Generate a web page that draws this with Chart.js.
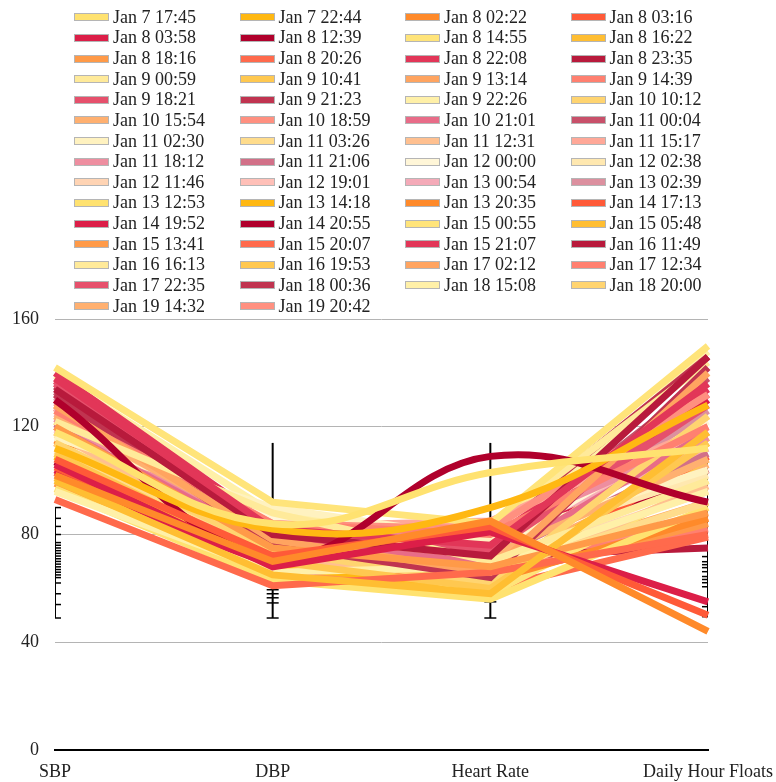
<!DOCTYPE html>
<html>
<head>
<meta charset="utf-8">
<script src="https://cdn.jsdelivr.net/npm/chart.js@4.4.1/dist/chart.umd.min.js"></script>
<style>
  body { margin: 0; background: #fff; }
  #wrap { position: relative; width: 776px; height: 782px; }
  #legend {
    position: absolute; left: 74px; top: 7px;
    display: grid; grid-template-columns: repeat(4, 165.5px); grid-auto-rows: 20.64px;
    font: 18px 'Liberation Serif', 'Times New Roman', serif; color: #222;
  }
  .item { display: flex; align-items: center; white-space: nowrap; }
  .sw { width: 33px; height: 6px; border: 1px solid #b5b5b5; margin-right: 4px; }
</style>
</head>
<body>
<div id="wrap">
  <canvas id="chart" width="776" height="782"></canvas>
  <div id="legend"></div>
</div>
<script>
// categories on the x axis
const categories = ['SBP', 'DBP', 'Heart Rate', 'Daily Hour Floats'];

// one reading per series (legend order)
const seriesLabels = [
  'Jan 7 17:45', 'Jan 7 22:44', 'Jan 8 02:22', 'Jan 8 03:16',
  'Jan 8 03:58', 'Jan 8 12:39', 'Jan 8 14:55', 'Jan 8 16:22',
  'Jan 8 18:16', 'Jan 8 20:26', 'Jan 8 22:08', 'Jan 8 23:35',
  'Jan 9 00:59', 'Jan 9 10:41', 'Jan 9 13:14', 'Jan 9 14:39',
  'Jan 9 18:21', 'Jan 9 21:23', 'Jan 9 22:26', 'Jan 10 10:12',
  'Jan 10 15:54', 'Jan 10 18:59', 'Jan 10 21:01', 'Jan 11 00:04',
  'Jan 11 02:30', 'Jan 11 03:26', 'Jan 11 12:31', 'Jan 11 15:17',
  'Jan 11 18:12', 'Jan 11 21:06', 'Jan 12 00:00', 'Jan 12 02:38',
  'Jan 12 11:46', 'Jan 12 19:01', 'Jan 13 00:54', 'Jan 13 02:39',
  'Jan 13 12:53', 'Jan 13 14:18', 'Jan 13 20:35', 'Jan 14 17:13',
  'Jan 14 19:52', 'Jan 14 20:55', 'Jan 15 00:55', 'Jan 15 05:48',
  'Jan 15 13:41', 'Jan 15 20:07', 'Jan 15 21:07', 'Jan 16 11:49',
  'Jan 16 16:13', 'Jan 16 19:53', 'Jan 17 02:12', 'Jan 17 12:34',
  'Jan 17 22:35', 'Jan 18 00:36', 'Jan 18 15:08', 'Jan 18 20:00',
  'Jan 19 14:32', 'Jan 19 20:42'
];

// values per series: SBP, DBP, Heart Rate, Daily Hour Floats
const seriesValues = [
  [118, 84, 103, 112], [112, 82, 90, 128], [102, 70, 85, 44], [108, 72, 83, 50],
  [106, 68, 81, 55], [130, 72, 109, 92], [142, 92, 84, 150], [100, 65, 58, 118],
  [120, 75, 68, 88], [93, 61, 66, 80], [138, 82, 76, 136], [134, 80, 72, 146],
  [122, 88, 70, 100], [110, 70, 60, 114], [128, 78, 66, 140], [126, 84, 80, 120],
  [136, 79, 74, 128], [132, 76, 64, 142], [96, 66, 68, 96], [114, 74, 62, 124],
  [124, 80, 72, 108], [129, 84, 82, 132], [120, 77, 70, 118], [133, 81, 75, 138],
  [116, 90, 78, 104], [111, 75, 66, 92], [118, 71, 64, 98], [125, 83, 85, 120],
  [123, 79, 80, 116], [121, 76, 71, 110], [113, 86, 74, 122], [117, 82, 76, 102],
  [112, 79, 69, 96], [119, 81, 77, 118], [127, 78, 79, 112], [131, 80, 73, 126],
  [97, 63, 56, 90], [109, 68, 61, 114], [115, 72, 63, 86], [105, 70, 62, 109],
  [104, 66, 68, 130], [107, 67, 67, 104], [124, 77, 58, 100], [101, 64, 60, 116],
  [99, 65, 64, 84], [103, 68, 60, 79], [140, 83, 78, 134], [103, 71, 72, 75],
  [126, 85, 83, 144], [122, 76, 65, 108], [127, 74, 67, 92], [114, 73, 69, 82],
  [137, 78, 73, 132], [135, 82, 81, 146], [139, 88, 75, 148], [118, 80, 70, 124],
  [128, 77, 68, 106], [130, 79, 66, 86]
];

// series drawn as smoothed curves
const smoothSeries = [0, 1, 5];

// colour cycle (36 colours, repeats)
const palette = [
  '#FFE270', '#FFB812', '#FF8A2A', '#FF5A38',
  '#DC1E48', '#B0002C', '#FFE47A', '#FFBE32',
  '#FF9A48', '#FF6A4C', '#E23658', '#B81A3C',
  '#FFEA9A', '#FFC850', '#FFA460', '#FF8070',
  '#E6506C', '#C03450', '#FFF0A8', '#FFD470',
  '#FFB070', '#FF9080', '#E86C88', '#C8506A',
  '#FFF2C0', '#FFDC8C', '#FFC090', '#FFA898',
  '#EE8EA0', '#D27088', '#FFF6D8', '#FFE8B0',
  '#FFD4B4', '#FFC0B8', '#F4AAB8', '#DC909F'
];

// error bars per category
const errLow = [49, 49, 49, 49.5];
const errHigh = [90, 114, 114, 110];
const errCaps = [
  [90, 86, 83, 80, 77, 76, 75, 74, 73, 72, 71, 70, 69, 68, 67, 66, 65, 64, 62, 58, 54, 49],
  [63, 59.5, 58, 56.5, 54.6, 49],
  [90, 55, 49],
  [74.4, 71.8, 69.9, 68.8, 67.7, 66.2, 64.4, 63.3, 62.1, 60.6, 55.8, 53.2, 49.5]
];

const serif = "'Liberation Serif', 'Times New Roman', serif";

const datasets = seriesLabels.map((lab, i) => ({
  label: lab,
  data: seriesValues[i],
  borderColor: palette[i % palette.length],
  backgroundColor: palette[i % palette.length],
  borderWidth: 7,
  pointRadius: 0,
  pointHoverRadius: 0,
  tension: smoothSeries.includes(i) ? 0.4 : 0,
  fill: false
}));

// legend (html grid so columns line up)
const legendEl = document.getElementById('legend');
datasets.forEach(ds => {
  const item = document.createElement('div');
  item.className = 'item';
  const sw = document.createElement('span');
  sw.className = 'sw';
  sw.style.background = ds.borderColor;
  const txt = document.createElement('span');
  txt.textContent = ds.label;
  item.appendChild(sw);
  item.appendChild(txt);
  legendEl.appendChild(item);
});

const errorBars = {
  id: 'errorBars',
  beforeDatasetsDraw(chart) {
    const { ctx, chartArea, scales } = chart;
    ctx.save();
    ctx.beginPath();
    ctx.rect(chartArea.left, chartArea.top, chartArea.right - chartArea.left, chartArea.bottom - chartArea.top);
    ctx.clip();
    ctx.strokeStyle = '#000';
    categories.forEach((c, i) => {
      const x = scales.x.getPixelForValue(i);
      ctx.lineWidth = 2;
      ctx.beginPath();
      ctx.moveTo(x, scales.y.getPixelForValue(errLow[i]));
      ctx.lineTo(x, scales.y.getPixelForValue(errHigh[i]));
      ctx.stroke();
      ctx.lineWidth = 1.5;
      errCaps[i].forEach(v => {
        const y = scales.y.getPixelForValue(v);
        ctx.beginPath();
        ctx.moveTo(x - 6, y);
        ctx.lineTo(x + 6, y);
        ctx.stroke();
      });
    });
    ctx.restore();
  }
};

new Chart(document.getElementById('chart'), {
  type: 'line',
  data: { labels: categories, datasets: datasets },
  options: {
    responsive: false,
    animation: false,
    devicePixelRatio: 1,
    layout: { padding: { top: 319, left: 12, right: 68, bottom: 0 } },
    plugins: { legend: { display: false }, tooltip: { enabled: false } },
    scales: {
      x: {
        offset: false,
        grid: { display: false, drawTicks: false },
        border: { display: true, color: '#000', width: 2 },
        ticks: { font: { family: serif, size: 18 }, color: '#222', padding: 11, maxRotation: 0 },
        afterFit: scale => {
          scale.height = 32;
          scale.paddingLeft = 0;
          scale.paddingRight = 0;
        }
      },
      y: {
        min: 0, max: 160,
        grid: { color: ctx => ctx.tick.value === 0 ? 'rgba(0,0,0,0)' : '#b4b4b4', drawTicks: false },
        border: { display: false },
        ticks: { stepSize: 40, font: { family: serif, size: 18 }, color: '#222', padding: 16 },
        afterFit: scale => {
          scale.width = 43;
        }
      }
    }
  },
  plugins: [errorBars]
});
</script>
</body>
</html>
